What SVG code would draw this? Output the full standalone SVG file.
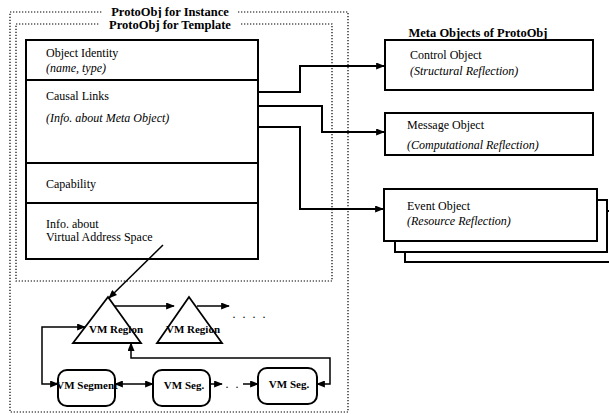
<svg xmlns="http://www.w3.org/2000/svg" width="609" height="415" viewBox="0 0 609 415">
<defs>
<style>
text{font-family:"Liberation Serif","Times New Roman",serif;fill:#000}
.t{font-size:12px}
.i{font-size:12px;font-style:italic}
.h{font-size:12.5px;font-weight:bold}
.vm{font-size:11px;font-weight:bold}
.box{fill:#fff;stroke:#000;stroke-width:2}
.dot{fill:none;stroke:#000;stroke-width:1.2;stroke-dasharray:1.3 1.7}
.c{fill:none;stroke:#000;stroke-width:2}
.c1{fill:none;stroke:#000;stroke-width:1.5}
</style>
<marker id="a" viewBox="0 0 10 8" refX="9" refY="4" markerWidth="9" markerHeight="7" markerUnits="userSpaceOnUse" orient="auto-start-reverse">
<path d="M0,0 L10,4 L0,8 z" fill="#000"/>
</marker>
</defs>
<rect width="609" height="415" fill="#fff"/>

<g id="protoInstance">
<rect class="dot" x="10" y="12" width="338" height="400"/>
<rect x="103" y="5" width="134" height="13" fill="#fff"/>
<text class="h" x="170" y="16" text-anchor="middle">ProtoObj for Instance</text>
</g>
<g id="protoTemplate">
<rect class="dot" x="16" y="24" width="316" height="257"/>
<rect x="100" y="18" width="140" height="13" fill="#fff"/>
<text class="h" x="170" y="29" text-anchor="middle">ProtoObj for Template</text>
</g>

<g id="protoObj">
<rect class="box" x="26" y="40" width="232" height="219"/>
<line class="c" x1="26" y1="80" x2="258" y2="80"/>
<line class="c" x1="26" y1="163" x2="258" y2="163"/>
<line class="c" x1="26" y1="203" x2="258" y2="203"/>
<text class="t" x="46" y="57">Object Identity</text>
<text class="i" x="46" y="72">(name, type)</text>
<text class="t" x="46" y="100">Causal Links</text>
<text class="i" x="46" y="122">(Info. about Meta Object)</text>
<text class="t" x="46" y="188">Capability</text>
<text class="t" x="46" y="228">Info. about</text>
<text class="t" x="46" y="241">Virtual Address Space</text>
</g>

<text id="metaTitle" class="h" x="478" y="37" text-anchor="middle">Meta Objects of ProtoObj</text>

<g id="controlObject">
<rect class="box" x="385" y="40" width="208" height="50"/>
<text class="t" x="410" y="59">Control Object</text>
<text class="i" x="410" y="75">(Structural Reflection)</text>
</g>
<g id="messageObject">
<rect class="box" x="385" y="113" width="208" height="42"/>
<text class="t" x="407" y="129">Message Object</text>
<text class="i" x="407" y="149">(Computational Reflection)</text>
</g>
<g id="eventObject">
<rect class="box" x="405" y="211" width="215" height="51"/>
<rect class="box" x="395" y="200" width="212" height="52"/>
<rect class="box" x="384" y="189" width="213" height="52"/>
<text class="t" x="407" y="210">Event Object</text>
<text class="i" x="407" y="225">(Resource Reflection)</text>
</g>

<g id="vmRegion1">
<polygon points="108,297 73,343 141,343" fill="#fff" stroke="#000" stroke-width="1.8"/>
<text class="vm" x="116" y="333" text-anchor="middle">VM Region</text>
</g>
<g id="vmRegion2">
<polygon points="189,297 157,343 222,343" fill="#fff" stroke="#000" stroke-width="1.8"/>
<text class="vm" x="193" y="333" text-anchor="middle">VM Region</text>
</g>
<text id="dots1" class="t" x="250" y="318" text-anchor="middle" letter-spacing="2">. . . .</text>

<g id="vmSegment">
<rect class="box" x="58" y="370" width="57" height="36" rx="9"/>
<text class="vm" x="87" y="389" text-anchor="middle">VM Segment</text>
</g>
<g id="vmSeg2">
<rect class="box" x="153" y="370" width="57" height="36" rx="9"/>
<text class="vm" x="184" y="389" text-anchor="middle">VM Seg.</text>
</g>
<g id="vmSeg3">
<rect class="box" x="258" y="368" width="59" height="36" rx="9"/>
<text class="vm" x="289" y="388" text-anchor="middle">VM Seg.</text>
</g>
<text id="dots2" class="t" x="233" y="388" text-anchor="middle" letter-spacing="2">. .</text>

<g id="connectors">
<path class="c" d="M258,92 H300 V66 H384" marker-end="url(#a)"/>
<path class="c" d="M258,106 H322 V132 H384" marker-end="url(#a)"/>
<path class="c" d="M258,127 H300 V209 H383" marker-end="url(#a)"/>
<path class="c1" d="M163,245 L109,298" marker-end="url(#a)"/>
<path class="c1" d="M115,306 H174" marker-end="url(#a)"/>
<path class="c1" d="M197,306 H229" marker-end="url(#a)"/>
<path class="c1" d="M85,327 H42 V384 H58" marker-start="url(#a)" marker-end="url(#a)"/>
<path class="c1" d="M115,384 H153" marker-start="url(#a)" marker-end="url(#a)"/>
<path class="c1" d="M210,384 H222" marker-end="url(#a)"/>
<path class="c1" d="M243,384 H258" marker-end="url(#a)"/>
<path class="c1" d="M131,343 V358 H330 V384 H317" marker-start="url(#a)" marker-end="url(#a)"/>
</g>
</svg>
